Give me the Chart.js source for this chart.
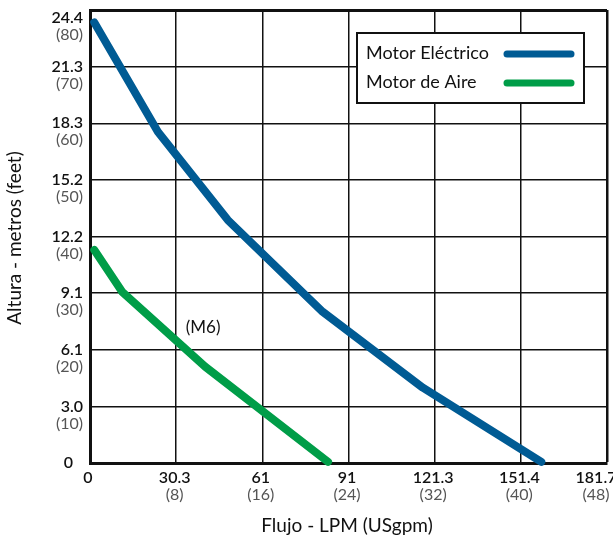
<!DOCTYPE html>
<html>
<head>
<meta charset="utf-8">
<script src="https://cdn.jsdelivr.net/npm/chart.js@4.4.1/dist/chart.umd.min.js"></script>
<style>
  html, body { margin: 0; padding: 0; background: #fff; }
  #wrap { width: 613px; height: 538px; }
</style>
</head>
<body>
<div id="wrap"><canvas id="c" width="613" height="538"></canvas></div>
<script>
// ---- Data (flow in USgpm, head in feet) ----
const flowElectric = [0.4, 6.3, 12.8, 21.6, 30.9, 41.9];
const headElectric = [77.8, 58.5, 42.9, 26.7, 13.3, 0.2];
const flowAir = [0.4, 3.0, 10.7, 22.1];
const headAir = [37.6, 30.2, 17.0, 0.2];

const seriesNames = ['Motor Eléctrico', 'Motor de Aire'];
const seriesColors = ['#005b94', '#009d48'];

// ---- Tick labels ----
const xTickValues = [0, 8, 16, 24, 32, 40, 48];
const xTickMetric = ['0', '30.3', '61', '91', '121.3', '151.4', '181.7'];
const xTickImperial = ['', '(8)', '(16)', '(24)', '(32)', '(40)', '(48)'];
const yTickValues = [0, 10, 20, 30, 40, 50, 60, 70, 80];
const yTickMetric = ['0', '3.0', '6.1', '9.1', '12.2', '15.2', '18.3', '21.3', '24.4'];
const yTickImperial = ['', '(10)', '(20)', '(30)', '(40)', '(50)', '(60)', '(70)', '(80)'];

const xTitle = 'Flujo - LPM (USgpm)';
const yTitle = 'Altura - metros (feet)';
const annotationText = '(M6)';
const annotationPos = { x: 10.5, y: 23.9 };

const FONT = 'Lato, "Open Sans", sans-serif';

function toPoints(xs, ys) { return xs.map((x, i) => ({ x: x, y: ys[i] })); }

const overlay = {
  id: 'overlay',
  afterDraw(chart) {
    const ctx = chart.ctx;
    const xs = chart.scales.x, ys = chart.scales.y;
    const area = chart.chartArea;
    ctx.save();
    // y tick labels
    ctx.textAlign = 'right';
    ctx.textBaseline = 'middle';
    yTickValues.forEach((v, i) => {
      let py = ys.getPixelForValue(v);
      if (i === yTickValues.length - 1) py += 8;
      const rx = (i === 0) ? 73 : 83;
      ctx.fillStyle = '#111';
      ctx.font = '600 16px ' + FONT;
      ctx.fillText(yTickMetric[i], rx, py);
      if (yTickImperial[i]) {
        ctx.fillStyle = '#555';
        ctx.font = '400 16px ' + FONT;
        ctx.fillText(yTickImperial[i], rx, py + 17);
      }
    });
    // x tick labels
    ctx.textAlign = 'center';
    xTickValues.forEach((v, i) => {
      let px = xs.getPixelForValue(v) - (i === 0 ? 2 : 1.5);
      if (i === xTickValues.length - 1) px = xs.getPixelForValue(v) - 11;
      ctx.fillStyle = '#111';
      ctx.font = '600 16px ' + FONT;
      ctx.fillText(xTickMetric[i], px, 478);
      if (xTickImperial[i]) {
        ctx.fillStyle = '#555';
        ctx.font = '400 16px ' + FONT;
        ctx.fillText(xTickImperial[i], px, 495);
      }
    });
    // axis titles
    ctx.fillStyle = '#111';
    ctx.font = '400 19px ' + FONT;
    ctx.fillText(xTitle, 347, 526);
    ctx.save();
    ctx.translate(15, 238);
    ctx.rotate(-Math.PI / 2);
    ctx.fillText(yTitle, 0, 0);
    ctx.restore();
    // annotation
    ctx.font = '400 17px ' + FONT;
    ctx.fillText(annotationText, xs.getPixelForValue(annotationPos.x), ys.getPixelForValue(annotationPos.y));
    // legend
    const bx = 357, by = 33, bw = 227, bh = 70;
    ctx.fillStyle = '#fff';
    ctx.fillRect(bx, by, bw, bh);
    ctx.strokeStyle = '#111';
    ctx.lineWidth = 2;
    ctx.strokeRect(bx, by, bw, bh);
    ctx.textAlign = 'left';
    ctx.font = '400 18px ' + FONT;
    const rows = [53, 82];
    seriesNames.forEach((n, i) => {
      ctx.fillStyle = '#111';
      ctx.fillText(n, 366, rows[i]);
      ctx.strokeStyle = seriesColors[i];
      ctx.lineWidth = 7;
      ctx.lineCap = 'round';
      ctx.beginPath();
      ctx.moveTo(507, rows[i] + 1);
      ctx.lineTo(571, rows[i] + 1);
      ctx.stroke();
    });
    ctx.restore();
  }
};

new Chart(document.getElementById('c'), {
  type: 'scatter',
  data: {
    datasets: [
      { label: seriesNames[0], data: toPoints(flowElectric, headElectric), showLine: true,
        borderColor: seriesColors[0], backgroundColor: seriesColors[0], borderWidth: 8,
        borderCapStyle: 'round', borderJoinStyle: 'round', pointRadius: 0, tension: 0, clip: 10 },
      { label: seriesNames[1], data: toPoints(flowAir, headAir), showLine: true,
        borderColor: seriesColors[1], backgroundColor: seriesColors[1], borderWidth: 8,
        borderCapStyle: 'round', borderJoinStyle: 'round', pointRadius: 0, tension: 0, clip: 10 }
    ]
  },
  options: {
    responsive: false,
    animation: false,
    devicePixelRatio: 1,
    layout: { padding: { left: 90, right: 6, top: 10, bottom: 75 } },
    plugins: { legend: { display: false }, tooltip: { enabled: false } },
    scales: {
      x: {
        type: 'linear', min: 0, max: 48,
        afterBuildTicks: (s) => { s.ticks = xTickValues.map(v => ({ value: v })); },
        ticks: { display: false },
        grid: { color: '#111', lineWidth: (c) => (c.tick && c.tick.value === 48 ? 2.5 : 1.5), drawTicks: false },
        border: { color: '#111', width: 3 },
        title: { display: false }
      },
      y: {
        type: 'linear', min: 0, max: 80,
        afterBuildTicks: (s) => { s.ticks = yTickValues.map(v => ({ value: v })); },
        ticks: { display: false },
        grid: { color: '#111', lineWidth: (c) => (c.tick && c.tick.value === 80 ? 3 : 1.5), drawTicks: false },
        border: { color: '#111', width: 3 },
        title: { display: false }
      }
    }
  },
  plugins: [overlay]
});
</script>
</body>
</html>
